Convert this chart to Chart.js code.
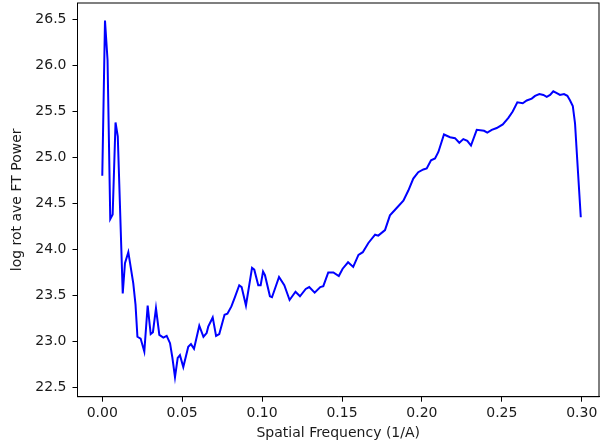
<!DOCTYPE html>
<html>
<head>
<meta charset="utf-8">
<script src="https://cdn.jsdelivr.net/npm/chart.js@4/dist/chart.umd.min.js"></script>
<style>
  html, body { margin: 0; padding: 0; background: #fff; overflow: hidden; }
  canvas { display: block; }
</style>
</head>
<body>
<canvas id="ftChart" width="600" height="446"></canvas>
<script>
// rotationally averaged FT power
const freq = [
  0.0000, 0.0017, 0.0033, 0.0050, 0.0065, 0.0083, 0.0097, 0.0128, 0.0142, 0.0163,
  0.0194, 0.0208, 0.0220, 0.0240, 0.0263, 0.0284, 0.0303, 0.0317, 0.0336, 0.0357,
  0.0382, 0.0403, 0.0424, 0.0438, 0.0455, 0.0472, 0.0486, 0.0507, 0.0538, 0.0555,
  0.0574, 0.0607, 0.0633, 0.0653, 0.0663, 0.0691, 0.0712, 0.0732, 0.0765, 0.0783,
  0.0808, 0.0830, 0.0857, 0.0872, 0.0899, 0.0937, 0.0951, 0.0976, 0.0991, 0.1006,
  0.1018, 0.1049, 0.1062, 0.1106, 0.1139, 0.1172, 0.1209, 0.1237, 0.1273, 0.1295,
  0.1329, 0.1364, 0.1383, 0.1414, 0.1446, 0.1480, 0.1504, 0.1538, 0.1570, 0.1603,
  0.1630, 0.1665, 0.1707, 0.1727, 0.1769, 0.1800, 0.1842, 0.1884, 0.1915, 0.1946,
  0.1977, 0.2009, 0.2030, 0.2057, 0.2082, 0.2103, 0.2138, 0.2176, 0.2207, 0.2234,
  0.2259, 0.2284, 0.2307, 0.2343, 0.2389, 0.2409, 0.2437, 0.2468, 0.2506, 0.2541,
  0.2568, 0.2597, 0.2631, 0.2656, 0.2687, 0.2708, 0.2735, 0.2760, 0.2781, 0.2802,
  0.2822, 0.2844, 0.2864, 0.2889, 0.2910, 0.2927, 0.2944, 0.2958, 0.2972, 0.2994
];
const power = [
  24.80, 26.49, 26.06, 24.33, 24.38, 25.38, 25.23, 23.52, 23.85, 23.97,
  23.63, 23.40, 23.05, 23.03, 22.89, 23.39, 23.08, 23.10, 23.36, 23.07,
  23.04, 23.06, 22.98, 22.83, 22.61, 22.82, 22.85, 22.72, 22.94, 22.97,
  22.92, 23.17, 23.05, 23.09, 23.16, 23.26, 23.06, 23.08, 23.29, 23.30,
  23.38, 23.48, 23.61, 23.59, 23.39, 23.80, 23.78, 23.61, 23.61, 23.76,
  23.72, 23.49, 23.48, 23.70, 23.61, 23.45, 23.54, 23.49, 23.57, 23.59,
  23.53, 23.59, 23.60, 23.75, 23.75, 23.71, 23.79, 23.86, 23.81, 23.94,
  23.97, 24.07, 24.16, 24.15, 24.21, 24.37, 24.45, 24.53, 24.64, 24.77,
  24.84, 24.87, 24.88, 24.97, 24.99, 25.06, 25.25, 25.22, 25.21, 25.16,
  25.20, 25.18, 25.13, 25.30, 25.29, 25.27, 25.30, 25.32, 25.36, 25.43,
  25.50, 25.60, 25.59, 25.62, 25.64, 25.67, 25.69, 25.68, 25.66, 25.68,
  25.72, 25.70, 25.68, 25.69, 25.67, 25.62, 25.56, 25.37, 24.97, 24.35
];
const xTicks = [0.00, 0.05, 0.10, 0.15, 0.20, 0.25, 0.30];
const yTicks = [22.5, 23.0, 23.5, 24.0, 24.5, 25.0, 25.5, 26.0, 26.5];

const tickFont = { family: 'DejaVu Sans', size: 14 };
const textColor = '#1a1a1a';

// matplotlib draws a full box round the axes
const frame = {
  id: 'frame',
  afterDatasetsDraw(chart) {
    const { ctx, chartArea: a } = chart;
    ctx.save();
    ctx.strokeStyle = '#000';
    ctx.lineWidth = 1;
    ctx.strokeRect(a.left, a.top, a.right - a.left, a.bottom - a.top);
    ctx.restore();
  }
};

new Chart('ftChart', {
  type: 'line',
  data: {
    datasets: [{
      data: freq.map((f, i) => ({ x: f, y: power[i] })),
      borderColor: '#0000ff',
      borderWidth: 2,
      pointRadius: 0,
      tension: 0,
      fill: false
    }]
  },
  options: {
    responsive: false,
    animation: false,
    layout: { padding: { top: 3, right: 1, left: 0, bottom: 0 } },
    plugins: { legend: { display: false }, tooltip: { enabled: false } },
    scales: {
      x: {
        type: 'linear',
        min: -0.0155,
        max: 0.3108,
        afterFit: (s) => {
          s.height = 49.3;
          s.paddingLeft = 0;
          s.paddingRight = 0;
        },
        afterBuildTicks: (s) => { s.ticks = xTicks.map(v => ({ value: v })); },
        ticks: {
          autoSkip: false, maxRotation: 0, padding: 3,
          color: textColor, font: tickFont,
          callback: (v) => Number(v).toFixed(2)
        },
        grid: { drawOnChartArea: false, drawTicks: true, tickLength: 5, color: '#000' },
        border: { display: true, color: '#000', width: 1 },
        title: {
          display: true, text: 'Spatial Frequency (1/A)',
          color: textColor, font: tickFont, padding: { top: 0, bottom: 4 }
        }
      },
      y: {
        min: 22.398,
        max: 26.68,
        afterFit: (s) => {
          s.width = 77.5;
          s.paddingTop = 0;
          s.paddingBottom = 0;
        },
        afterBuildTicks: (s) => { s.ticks = yTicks.map(v => ({ value: v })); },
        ticks: {
          padding: 6, color: textColor, font: tickFont,
          callback: (v) => Number(v).toFixed(1)
        },
        grid: { drawOnChartArea: false, drawTicks: true, tickLength: 5, color: '#000' },
        border: { display: true, color: '#000', width: 1 },
        title: {
          display: true, text: 'log rot ave FT Power',
          color: textColor, font: tickFont, padding: { top: 9, bottom: 0 }
        }
      }
    }
  },
  plugins: [frame]
});
</script>
</body>
</html>
